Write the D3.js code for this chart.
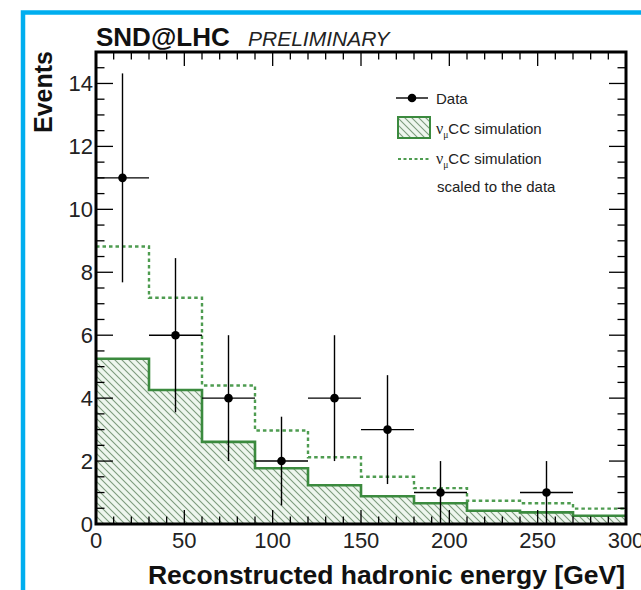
<!DOCTYPE html>
<html>
<head>
<meta charset="utf-8">
<script src="https://cdn.jsdelivr.net/npm/d3@7"></script>
<style>
  html, body { margin: 0; padding: 0; background: #fff; }
  svg { display: block; font-family: "Liberation Sans", Arial, Helvetica, sans-serif; }
</style>
</head>
<body>
<svg id="chart" width="641" height="590"></svg>
<script>
// Bin edges of the hadronic-energy histogram [GeV]
const binEdges = [0, 30, 60, 90, 120, 150, 180, 210, 240, 270, 300];
// nu_mu CC simulation, expected events per bin
const simCounts = [5.25, 4.26, 2.61, 1.77, 1.23, 0.88, 0.66, 0.42, 0.37, 0.26];
// nu_mu CC simulation scaled to the observed number of events
const simScaled = [8.82, 7.19, 4.40, 2.97, 2.12, 1.50, 1.14, 0.74, 0.66, 0.49];
// Observed events: bin centres, counts, vertical and horizontal errors
const dataE = [15, 45, 75, 105, 135, 165, 195, 255];
const dataN = [11, 6, 4, 2, 4, 3, 1, 1];
const dataErr = [3.32, 2.45, 2.0, 1.41, 2.0, 1.73, 1.0, 1.0];
const dataHalfWidth = [15, 15, 15, 15, 15, 15, 15, 15];
// Axis ticks
const xMajorTicks = [0, 50, 100, 150, 200, 250, 300];
const yMajorTicks = [0, 2, 4, 6, 8, 10, 12, 14];

const svg = d3.select("#chart");
const plot = { left: 96, right: 626, top: 52, bottom: 524 };

const x = d3.scaleLinear().domain([0, 300]).range([plot.left, plot.right]);
const y = d3.scaleLinear().domain([0, 15]).range([plot.bottom, plot.top]);

const GREEN = "#3b8a3e";
const GREEN_DASH = "#4e9c50";

// Outer cyan frame
svg.append("rect")
  .attr("x", 23).attr("y", 12.5)
  .attr("width", 700).attr("height", 700)
  .attr("fill", "none").attr("stroke", "#00aeef").attr("stroke-width", 4.5);

// Hatch pattern for the simulation histogram
const defs = svg.append("defs");
const pat = defs.append("pattern")
  .attr("id", "hatch")
  .attr("patternUnits", "userSpaceOnUse")
  .attr("width", 7).attr("height", 7);
pat.append("rect").attr("width", 7).attr("height", 7).attr("fill", "#eef6ee");
pat.append("path")
  .attr("d", "M-1,-1 L8,8 M-8,-1 L1,8 M6,-1 L15,8")
  .attr("stroke", "#7d9b7d").attr("stroke-width", 1.1);

const clip = defs.append("clipPath").attr("id", "plotclip");
clip.append("rect")
  .attr("x", plot.left).attr("y", plot.top)
  .attr("width", plot.right - plot.left).attr("height", plot.bottom - plot.top);

// Step points: each bin value held until the next edge
const stepPoints = vals => binEdges.map((e, i) => [e, vals[Math.min(i, vals.length - 1)]]);

const g = svg.append("g").attr("clip-path", "url(#plotclip)");

// Hatched simulation area
g.append("path")
  .datum(stepPoints(simCounts))
  .attr("fill", "url(#hatch)")
  .attr("d", d3.area().curve(d3.curveStepAfter)
    .x(d => x(d[0])).y0(y(0)).y1(d => y(d[1])));

// Simulation outline
g.append("path")
  .datum(stepPoints(simCounts))
  .attr("fill", "none").attr("stroke", GREEN).attr("stroke-width", 2.6)
  .attr("d", d3.line().curve(d3.curveStepAfter).x(d => x(d[0])).y(d => y(d[1])));

// Scaled simulation (dashed)
g.append("path")
  .datum(stepPoints(simScaled))
  .attr("fill", "none").attr("stroke", GREEN_DASH).attr("stroke-width", 2.4)
  .attr("stroke-dasharray", "3.5,3")
  .attr("d", d3.line().curve(d3.curveStepAfter).x(d => x(d[0])).y(d => y(d[1])));

// Data points with error bars
const pts = g.append("g").selectAll("g").data(dataE.map((e, i) => ({
  e, n: dataN[i], err: dataErr[i], hw: dataHalfWidth[i]
}))).join("g");
pts.append("line")
  .attr("x1", d => x(d.e)).attr("x2", d => x(d.e))
  .attr("y1", d => y(Math.max(0, d.n - d.err))).attr("y2", d => y(d.n + d.err))
  .attr("stroke", "#000").attr("stroke-width", 1.4);
pts.append("line")
  .attr("x1", d => x(d.e - d.hw)).attr("x2", d => x(d.e + d.hw))
  .attr("y1", d => y(d.n)).attr("y2", d => y(d.n))
  .attr("stroke", "#000").attr("stroke-width", 1.4);
pts.append("circle")
  .attr("cx", d => x(d.e)).attr("cy", d => y(d.n)).attr("r", 4.3)
  .attr("fill", "#000");

// Frame and inward ticks on all four sides
const axes = svg.append("g").attr("stroke", "#000");
const xMinor = d3.range(0, 301, 10);
const yMinor = d3.range(0, 15.01, 0.5);
xMinor.forEach(v => {
  const major = xMajorTicks.includes(v);
  const len = major ? 14 : 7.5;
  axes.append("line").attr("x1", x(v)).attr("x2", x(v))
    .attr("y1", plot.bottom).attr("y2", plot.bottom - len).attr("stroke-width", 1.3);
  axes.append("line").attr("x1", x(v)).attr("x2", x(v))
    .attr("y1", plot.top).attr("y2", plot.top + len).attr("stroke-width", 1.3);
});
yMinor.forEach(v => {
  const major = yMajorTicks.includes(v);
  const len = major ? 17 : 8.5;
  axes.append("line").attr("x1", plot.left).attr("x2", plot.left + len)
    .attr("y1", y(v)).attr("y2", y(v)).attr("stroke-width", 1.3);
  axes.append("line").attr("x1", plot.right).attr("x2", plot.right - len)
    .attr("y1", y(v)).attr("y2", y(v)).attr("stroke-width", 1.3);
});
axes.append("rect")
  .attr("x", plot.left).attr("y", plot.top)
  .attr("width", plot.right - plot.left).attr("height", plot.bottom - plot.top)
  .attr("fill", "none").attr("stroke-width", 3);

// Tick labels
svg.append("g").selectAll("text").data(xMajorTicks).join("text")
  .attr("x", d => x(d)).attr("y", 548)
  .attr("text-anchor", "middle").attr("font-size", 22).attr("fill", "#222")
  .text(d => d);
svg.append("g").selectAll("text").data(yMajorTicks).join("text")
  .attr("x", 93).attr("y", d => y(d) + 8)
  .attr("text-anchor", "end").attr("font-size", 22).attr("fill", "#222")
  .text(d => d);

// Axis titles
svg.append("text")
  .attr("x", 625).attr("y", 584)
  .attr("text-anchor", "end").attr("font-size", 26.5).attr("font-weight", "bold")
  .attr("fill", "#111")
  .text("Reconstructed hadronic energy [GeV]");
svg.append("text")
  .attr("transform", "translate(52,51) rotate(-90)")
  .attr("text-anchor", "end").attr("font-size", 25).attr("font-weight", "bold")
  .attr("fill", "#111")
  .text("Events");

// Experiment label
svg.append("text")
  .attr("x", 96).attr("y", 46)
  .attr("font-size", 26).attr("font-weight", "bold").attr("fill", "#111")
  .text("SND@LHC");
svg.append("text")
  .attr("x", 248).attr("y", 46)
  .attr("font-size", 21).attr("font-style", "italic").attr("fill", "#222")
  .text("PRELIMINARY");

// Legend
const lg = svg.append("g").attr("font-size", 15).attr("fill", "#222");
lg.append("line").attr("x1", 396).attr("x2", 428).attr("y1", 98).attr("y2", 98)
  .attr("stroke", "#000").attr("stroke-width", 1.4);
lg.append("circle").attr("cx", 412).attr("cy", 98).attr("r", 4.3).attr("fill", "#000");
lg.append("text").attr("x", 436).attr("y", 103.5).text("Data");

lg.append("rect").attr("x", 398).attr("y", 117).attr("width", 32).attr("height", 21)
  .attr("fill", "url(#hatch)").attr("stroke", GREEN).attr("stroke-width", 2);
const nuLabel = (yy) => {
  const t = lg.append("text").attr("x", 436).attr("y", yy);
  t.append("tspan").attr("font-family", "Liberation Serif, serif").attr("font-size", 16).text("ν");
  t.append("tspan").attr("font-size", 9.5).attr("dy", 4).attr("font-family", "Liberation Serif, serif").text("μ");
  t.append("tspan").attr("dy", -4).text("CC simulation");
};
nuLabel(134);
lg.append("line").attr("x1", 398).attr("x2", 430).attr("y1", 159).attr("y2", 159)
  .attr("stroke", GREEN_DASH).attr("stroke-width", 2.2).attr("stroke-dasharray", "3,2.5");
nuLabel(164);
lg.append("text").attr("x", 437).attr("y", 192).text("scaled to the data");
</script>
</body>
</html>
